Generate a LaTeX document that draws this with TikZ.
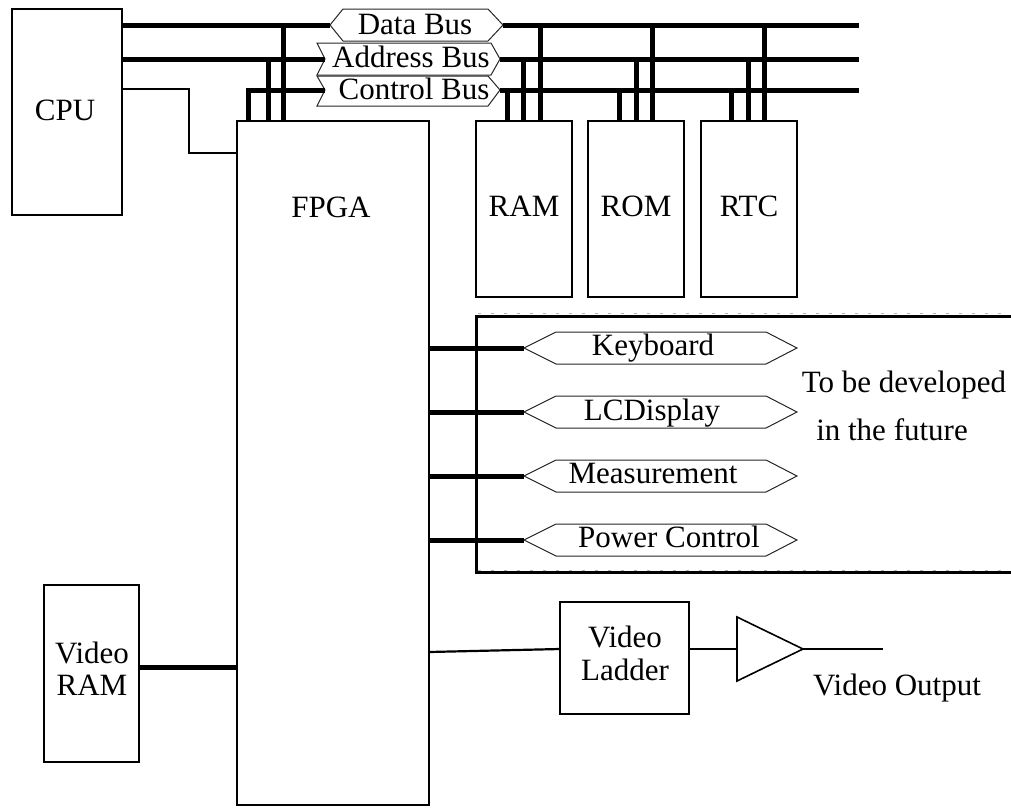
\documentclass[tikz,border=0pt]{standalone}
\usepackage{fontspec}
\setmainfont{Liberation Serif}
\begin{document}
\begin{tikzpicture}[x=1pt,y=-1pt,
  box/.style={draw, line width=2.5pt, inner sep=0pt, outer sep=0pt, anchor=north west},
  bus/.style={line width=5pt},
  wire/.style={line width=2.2pt},
  hexa/.style={line width=1pt, draw=black!85, line join=miter},
  fut/.style={line width=3pt},
  futdash/.style={line width=1pt, draw=gray!60, dash pattern=on 3pt off 10pt},
  lbl/.style={inner sep=0pt, anchor=base, font=\fontsize{31}{36}\selectfont}]
\useasboundingbox (0,0) rectangle (1011,809);

% boxes
\node[box, minimum width=110pt, minimum height=206pt] (cpu) at (12,9) {};
\node[box, minimum width=192pt, minimum height=684pt] (fpga) at (237,121) {};
\node[box, minimum width=96pt, minimum height=176pt] (ram) at (476,121) {};
\node[box, minimum width=96pt, minimum height=176pt] (rom) at (588,121) {};
\node[box, minimum width=96pt, minimum height=176pt] (rtc) at (701,121) {};
\node[box, minimum width=95pt, minimum height=177pt] (vram) at (44,585) {};
\node[box, minimum width=129pt, minimum height=112pt] (ladder) at (560,602) {};

% labels
\node[lbl] (cpulbl) at (65,120) {CPU};
\node[lbl] (fpgalbl) at (331,217) {FPGA};
\node[lbl] (ramlbl) at (524,216) {RAM};
\node[lbl] (romlbl) at (636,216) {ROM};
\node[lbl] (rtclbl) at (749,216) {RTC};
\node[lbl] (vramlbl1) at (92,663) {Video};
\node[lbl] (vramlbl2) at (92,695) {RAM};
\node[lbl] (ladlbl1) at (625,647) {Video};
\node[lbl] (ladlbl2) at (625,680) {Ladder};

% bus hexagons
\draw[hexa] (330,25) -- (343,9) -- (488,9) -- (503,25) -- (488,41) -- (343,41) -- cycle;
\draw[hexa] (317,43) -- (491,43) -- (500,59) -- (491,75) -- (317,75) -- (325,59) -- cycle;
\draw[hexa] (317,76) -- (488,76) -- (500,90) -- (488,106) -- (317,106) -- (325,90) -- cycle;
\node[lbl] (dbus) at (415,34) {Data Bus};
\node[lbl] (abus) at (411,67) {Address Bus};
\node[lbl] (cbus) at (414,99) {Control Bus};
\coordinate (dbL) at (330,25);
\coordinate (dbR) at (503,25);
\coordinate (abL) at (325,59);
\coordinate (abR) at (500,59);
\coordinate (cbL) at (325,90);
\coordinate (cbR) at (500,90);
\coordinate (dbEnd) at (859,25);
\coordinate (abEnd) at (859,59);
\coordinate (cbEnd) at (859,90);
\coordinate (cbStart) at (248,90);

% bus lines
\draw[bus] (cpu.east |- dbL) -- (dbL);
\draw[bus] (dbR) -- (dbEnd);
\draw[bus] (cpu.east |- abL) -- (abL);
\draw[bus] (abR) -- (abEnd);
\draw[bus] (fpga.north -| cbStart) -- (cbStart) -- (cbL);
\draw[bus] (cbR) -- (cbEnd);

% drops
\foreach \x in {283,540,652,764} \draw[bus] (\x,25) -- (\x,121);
\foreach \x in {268,523,636,748} \draw[bus] (\x,59) -- (\x,121);
\foreach \x in {507,619,731} \draw[bus] (\x,90) -- (\x,121);

% CPU to FPGA thin wire
\coordinate (cpuw) at (122,89);
\coordinate (fpgaw) at (237,153);
\draw[wire] (cpuw) -- (189,89) -- (189,153) -- (fpgaw);

% future box
\draw[futdash] (478,313.5) -- (1011,313.5);
\draw[futdash] (478,570) -- (1011,570);
\draw[fut] (1011,316.5) -- (476.5,316.5) -- (476.5,572.5) -- (1011,572.5);

% interface hexagons
\foreach \n/\y in {kb/348,lcd/412,meas/476,pwr/540}{
  \draw[hexa] (524,\y) -- (556,\y-16) -- (766,\y-16) -- (797,\y) -- (766,\y+16) -- (556,\y+16) -- cycle;
  \coordinate (\n L) at (524,\y);
}
\node[lbl] (kblbl) at (653,355) {Keyboard};
\node[lbl] (lcdlbl) at (652,420) {LCDisplay};
\node[lbl] (measlbl) at (653,483) {Measurement};
\node[lbl] (pwrlbl) at (669,547) {Power Control};
\foreach \n in {kb,lcd,meas,pwr} \draw[bus] (fpga.east |- \n L) -- (\n L);
\node[lbl] (fut1) at (904,392) {To be developed};
\node[lbl] (fut2) at (892,440) {in the future};

% video
\draw[bus] ([yshift=6.5pt]vram.east) -- ([yshift=6.5pt]vram.east -| fpga.west);
\coordinate (fv) at (429,652);
\coordinate (lv) at (560,649);
\draw[wire] (fv) -- (lv);
\coordinate (trL) at (737,649);
\coordinate (trT) at (803,649);
\draw[line width=1.6pt, line join=miter] (737,617) -- (trT) -- (737,681) -- cycle;
\draw[wire] (ladder.east |- trL) -- (trL);
\coordinate (outEnd) at (883,649);
\draw[wire] (trT) -- (outEnd);
\node[lbl] (outlbl) at (897,695) {Video Output};
\end{tikzpicture}
\end{document}
